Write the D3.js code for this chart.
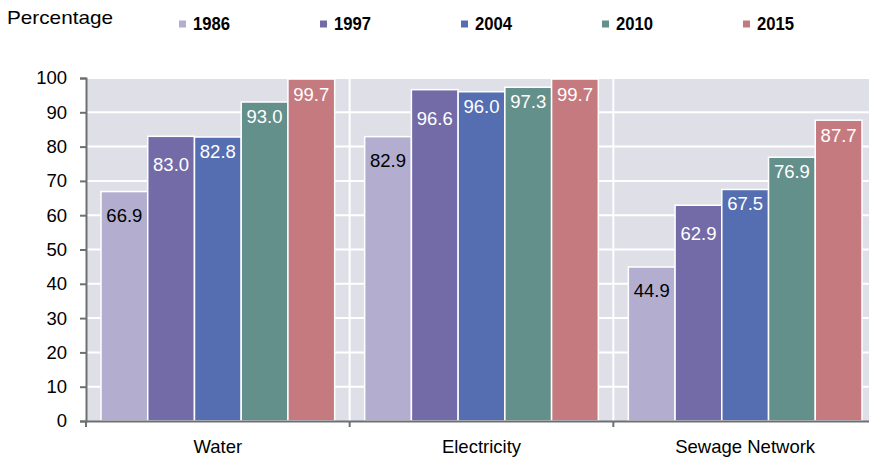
<!DOCTYPE html>
<html>
<head>
<meta charset="utf-8">
<script src="https://cdn.jsdelivr.net/npm/d3@7"></script>
<style>
  html, body { margin: 0; padding: 0; background: #fff; }
  svg { display: block; font-family: "Liberation Sans", Arial, sans-serif; }
</style>
</head>
<body>
<svg id="chart" width="869" height="459"></svg>
<script>
// Access to services by survey year
const categories = ["Water", "Electricity", "Sewage Network"];
const years = ["1986", "1997", "2004", "2010", "2015"];
const values1986 = [66.9, 82.9, 44.9];
const values1997 = [83.0, 96.6, 62.9];
const values2004 = [82.8, 96.0, 67.5];
const values2010 = [93.0, 97.3, 76.9];
const values2015 = [99.7, 99.7, 87.7];
const yTicks = [0, 10, 20, 30, 40, 50, 60, 70, 80, 90, 100];

const seriesValues = [values1986, values1997, values2004, values2010, values2015];
const colors = ["#b3aed0", "#736ba8", "#546eb1", "#64908b", "#c57a80"];
const labelColors = ["#000", "#fff", "#fff", "#fff", "#fff"];
// vertical placement of value labels inside each series' bars (px below bar top)
const labelDrop = [30, 35, 21, 21, 22];

const svg = d3.select("#chart");
const plotLeft = 86, plotRight = 877, plotTop = 78, plotBottom = 421;

const x0 = d3.scaleBand().domain(categories).range([plotLeft, plotRight]).paddingInner(0).paddingOuter(0);
const x1 = d3.scaleBand().domain(years).range([15, x0.bandwidth() - 15]).padding(0);
const y = d3.scaleLinear().domain([0, 100]).range([plotBottom, plotTop]);

// plot background
svg.append("rect")
  .attr("x", plotLeft).attr("y", y(100))
  .attr("width", plotRight - plotLeft).attr("height", y(0) - y(100))
  .attr("fill", "#dfdfe8");

// horizontal gridlines
svg.append("g").selectAll("line").data(yTicks.filter(d => d > 0)).join("line")
  .attr("x1", plotLeft).attr("x2", plotRight)
  .attr("y1", d => y(d)).attr("y2", d => y(d))
  .attr("stroke", "#fff").attr("stroke-width", 2);

// vertical separators between categories
svg.append("g").selectAll("line").data(categories.slice(1)).join("line")
  .attr("x1", d => x0(d)).attr("x2", d => x0(d))
  .attr("y1", y(100)).attr("y2", y(0))
  .attr("stroke", "#fff").attr("stroke-width", 2);

// bars
const groups = svg.append("g").selectAll("g").data(categories).join("g")
  .attr("transform", d => `translate(${x0(d)},0)`);

groups.selectAll("rect")
  .data((c, ci) => years.map((yr, si) => ({ yr, si, v: seriesValues[si][ci] })))
  .join("rect")
  .attr("x", d => x1(d.yr))
  .attr("y", d => y(d.v))
  .attr("width", x1.bandwidth())
  .attr("height", d => y(0) - y(d.v))
  .attr("fill", d => colors[d.si])
  .attr("stroke", "#fff")
  .attr("stroke-width", 1.5);

groups.selectAll("text")
  .data((c, ci) => years.map((yr, si) => ({ yr, si, v: seriesValues[si][ci] })))
  .join("text")
  .attr("x", d => x1(d.yr) + x1.bandwidth() / 2)
  .attr("y", d => y(d.v) + labelDrop[d.si])
  .attr("text-anchor", "middle")
  .attr("font-size", "18.5px")
  .attr("fill", d => labelColors[d.si])
  .text(d => d.v.toFixed(1));

// y axis
const yAxis = svg.append("g")
  .attr("transform", `translate(${plotLeft},0)`)
  .call(d3.axisLeft(y).tickValues(yTicks).tickSize(6).tickPadding(13));
yAxis.select(".domain").attr("stroke", "#6d7073").attr("stroke-width", 2);
yAxis.selectAll(".tick line").attr("stroke", "#6d7073").attr("stroke-width", 2);
yAxis.selectAll("text").attr("font-size", "18.5px").attr("fill", "#000")
  .attr("font-family", "Liberation Sans, Arial, sans-serif");

// x axis
const xAxis = svg.append("g")
  .attr("transform", `translate(0,${plotBottom})`)
  .call(d3.axisBottom(x0).tickSize(0).tickPadding(19));
xAxis.select(".domain").attr("stroke", "#6d7073").attr("stroke-width", 2);
xAxis.selectAll("text").attr("font-size", "18.5px").attr("fill", "#000")
  .attr("font-family", "Liberation Sans, Arial, sans-serif");
xAxis.selectAll(".sep").data(categories).join("line")
  .attr("class", "sep")
  .attr("x1", d => x0(d)).attr("x2", d => x0(d))
  .attr("y1", 0).attr("y2", 6)
  .attr("stroke", "#6d7073").attr("stroke-width", 2);

// axis title
svg.append("text")
  .attr("x", 7).attr("y", 23.5)
  .attr("font-size", "19px")
  .attr("textLength", 106)
  .attr("lengthAdjust", "spacingAndGlyphs")
  .text("Percentage");

// legend
const legend = svg.append("g").selectAll("g").data(years).join("g")
  .attr("transform", (d, i) => `translate(${179 + i * 141},0)`);
legend.append("rect")
  .attr("x", 0).attr("y", 20.5).attr("width", 7).attr("height", 7)
  .attr("fill", (d, i) => colors[i]);
legend.append("text")
  .attr("x", 14).attr("y", 30)
  .attr("font-size", "18.5px").attr("font-weight", "bold")
  .attr("textLength", 37)
  .attr("lengthAdjust", "spacingAndGlyphs")
  .text(d => d);
</script>
</body>
</html>
